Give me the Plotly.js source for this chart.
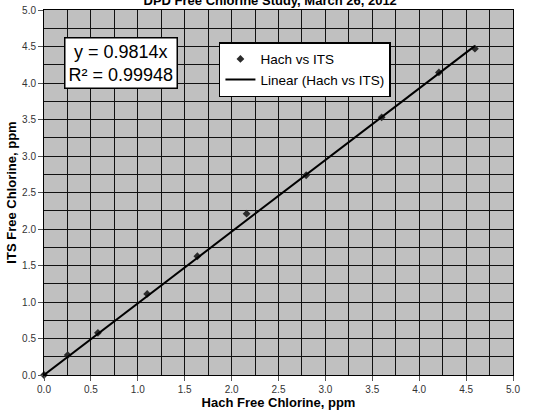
<!DOCTYPE html>
<html>
<head>
<meta charset="utf-8">
<script src="https://cdn.plot.ly/plotly-3.0.1.min.js"></script>
<style>html,body{margin:0;padding:0;background:#fff;}#chart{width:535px;height:411px;}</style>
</head>
<body>
<div id="chart"></div>
<script>
// Data
const hachX = [0, 0.253, 0.575, 1.10, 1.635, 2.16, 2.795, 3.60, 4.21, 4.594];
const itsY  = [0, 0.273, 0.578, 1.11, 1.627, 2.21, 2.736, 3.53, 4.145, 4.47];
const slope = 0.9814;
const rSquared = "0.99948";
const chartTitle = "DPD Free Chlorine Study, March 26, 2012";
const xTitle = "Hach Free Chlorine, ppm";
const yTitle = "ITS Free Chlorine, ppm";
const seriesName = "Hach vs ITS";
const trendName = "Linear (Hach vs ITS)";

const xMin = Math.min(...hachX), xMax = Math.max(...hachX);
const trendX = [xMin, xMax];
const trendY = trendX.map(v => slope * v);

const data = [
  {x: hachX, y: itsY, type: 'scatter', mode: 'markers', name: seriesName,
   marker: {symbol: 'diamond', size: 6, color: '#2b2b2b'}, cliponaxis: false},
  {x: trendX, y: trendY, type: 'scatter', mode: 'lines', name: trendName,
   line: {color: '#000', width: 2}, cliponaxis: false}
];

const axisCommon = {
  range: [0, 5], dtick: 0.5, tick0: 0, tickformat: '.1f',
  showgrid: true, gridcolor: '#111', gridwidth: 1,
  minor: {dtick: 0.25, showgrid: true, gridcolor: '#111', gridwidth: 1},
  showline: true, linecolor: '#000', linewidth: 1, mirror: true,
  zeroline: false, ticks: 'outside', ticklen: 5, tickcolor: '#555',
  tickfont: {family: 'Arial, Liberation Sans, sans-serif', size: 10, color: '#333'},
  fixedrange: true
};

const layout = {
  width: 535, height: 411,
  margin: {l: 44, r: 22, t: 10, b: 36},
  paper_bgcolor: '#fff', plot_bgcolor: '#c0c0c0',
  font: {family: 'Arial, Liberation Sans, sans-serif', color: '#000'},
  title: {text: '<b>' + chartTitle + '</b>', x: 0.505, xanchor: 'center',
          y: 1.0, yref: 'container', yanchor: 'middle',
          font: {size: 13, color: '#000'}},
  xaxis: Object.assign({}, axisCommon, {
    title: {text: '<b>' + xTitle + '</b>', standoff: 3,
            font: {size: 13, color: '#000'}}
  }),
  yaxis: Object.assign({}, axisCommon, {
    title: {text: '<b>' + yTitle + '</b>', standoff: 2,
            font: {size: 13, color: '#000'}}
  }),
  showlegend: true,
  legend: {x: 0.373, y: 0.912, xanchor: 'left', yanchor: 'top',
           bgcolor: '#fff', bordercolor: '#000', borderwidth: 1.5,
           font: {size: 13.5, color: '#000'}, tracegroupgap: 0},
  annotations: [{
    xref: 'paper', yref: 'paper', x: 0.164, y: 0.855,
    xanchor: 'center', yanchor: 'middle', showarrow: false,
    text: 'y = ' + slope + 'x<br>R² = ' + rSquared,
    font: {size: 18, color: '#000'}, align: 'center',
    bgcolor: '#fff', bordercolor: '#000', borderwidth: 1.5, borderpad: 3
  }]
};

Plotly.newPlot('chart', data, layout, {displayModeBar: false, staticPlot: true});
</script>
</body>
</html>
